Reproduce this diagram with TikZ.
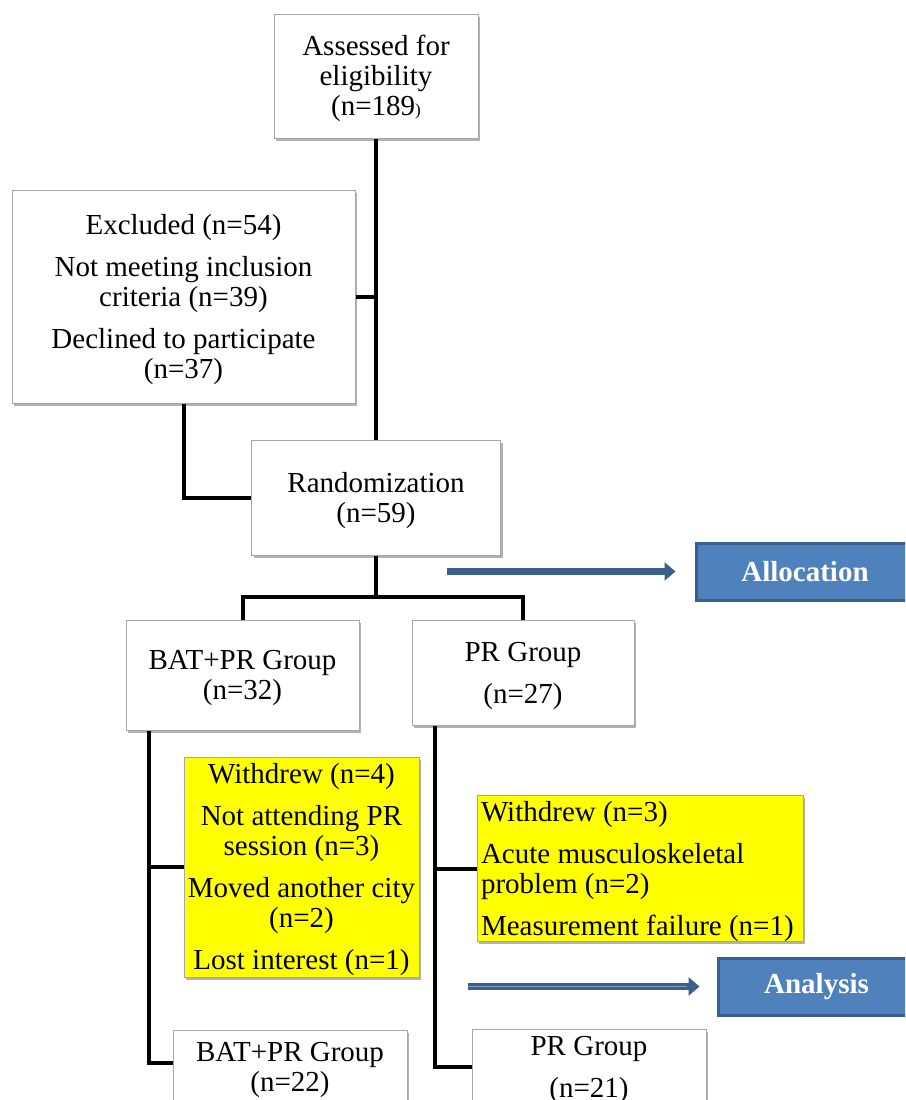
\documentclass[tikz,border=0pt]{standalone}
\usepackage{fontspec}
\setmainfont{Liberation Serif}
\usetikzlibrary{arrows.meta,shadows}
\definecolor{boxline}{HTML}{A6A6A6}
\definecolor{allocfill}{HTML}{4F81BD}
\definecolor{allocline}{HTML}{3A5F8B}
\definecolor{arrowblue}{HTML}{3C5F8C}
\definecolor{arrowlight}{HTML}{7F9CC6}
\definecolor{yel}{HTML}{FFFF00}
\newcommand\lift{\rule{0pt}{26pt}}
\begin{document}
\begin{tikzpicture}[x=1pt,y=-1pt,
  box/.style={draw=boxline, line width=1pt, fill=white, inner sep=0pt, align=center,
    font=\fontsize{29}{30}\selectfont,
    drop shadow={shadow xshift=2pt, shadow yshift=-2.5pt, fill=black, opacity=0.3}},
  ybox/.style={box, fill=yel},
  stage/.style={draw=allocline, line width=3pt, fill=allocfill, text=white,
    font=\fontsize{29}{30}\selectfont\bfseries, inner sep=0pt},
  link/.style={line width=4pt, black},
  flow/.style={line width=7pt, arrowblue, -{Triangle[width=18pt,length=11pt]}}]
\useasboundingbox (0,0) rectangle (905,1100);
\clip (0,0) rectangle (905,1100);
\fill[white] (0,0) rectangle (905,1100);

\node[box, minimum width=204, minimum height=124] (assess) at (376,76)
  {\lift Assessed for\\eligibility\\(n=189{\fontsize{17}{20}\selectfont )}};
\node[box, minimum width=343, minimum height=213] (excl) at (183.5,296.5)
  {\lift Excluded (n=54)\\[12pt]Not meeting inclusion\\criteria (n=39)\\[12pt]Declined to participate\\(n=37)};
\node[box, minimum width=249, minimum height=115] (rand) at (376,497.5)
  {\lift Randomization\\(n=59)};
\node[box, minimum width=233, minimum height=110] (bat) at (242.5,675)
  {\lift BAT+PR Group\\(n=32)};
\node[box, minimum width=222, minimum height=105] (pr) at (523,672.5)
  {\lift PR Group\\[12pt](n=27)};
\node[ybox, minimum width=235, minimum height=220] (yl) at (301.5,867)
  {\lift Withdrew (n=4)\\[12pt]Not attending PR\\session (n=3)\\[12pt]Moved another city\\(n=2)\\[12pt]Lost interest (n=1)};
\node[ybox, text width=318pt, align=flush left, inner xsep=4pt, minimum height=145] (yr) at (640,868.5)
  {\lift Withdrew (n=3)\\[12pt]Acute musculoskeletal\\problem (n=2)\\[12pt]Measurement failure (n=1)};
\node[box, minimum width=234, minimum height=74] (batb) at (290,1067)
  {\lift BAT+PR Group\\(n=22)};
\node[box, minimum width=234, minimum height=70] (prb) at (589,1067)
  {\lift PR Group\\[12pt](n=21)};

\node[stage, minimum width=218, minimum height=57] (alloc) at (805,571.5) {Allocation};
\node[stage, minimum width=197, minimum height=57] (anal) at (816.5,986.5) {Analysis};

\draw[link] (assess.south) -- (rand.north);
\draw[link] (excl.east) -- (excl.east -| assess.south);
\draw[link] (excl.south) |- (rand.west);
\draw[link] (rand.south) -- ++(0,41) coordinate (split);
\draw[link] (bat.north) |- (split) -| (pr.north);
\coordinate (lt) at ([xshift=23pt]bat.south west);
\draw[link] (lt) |- ([yshift=4pt]batb.west);
\draw[link] (lt |- yl.west) -- (yl.west);
\coordinate (rt) at ([xshift=23pt]pr.south west);
\draw[link] (rt) |- (prb.west);
\draw[link] (rt |- yr.west) -- (yr.west);

\coordinate (a1) at (447,571.5);
\draw[flow] (a1) -- ([xshift=-19pt]alloc.west);
\coordinate (a2) at (468,986.5);
\coordinate (a2e) at ([xshift=-30pt]anal.west);
\draw[flow] (a2) -- ([xshift=-17pt]anal.west);
\draw[arrowlight, line width=1.2pt] (a2) -- (a2e);
\end{tikzpicture}
\end{document}
